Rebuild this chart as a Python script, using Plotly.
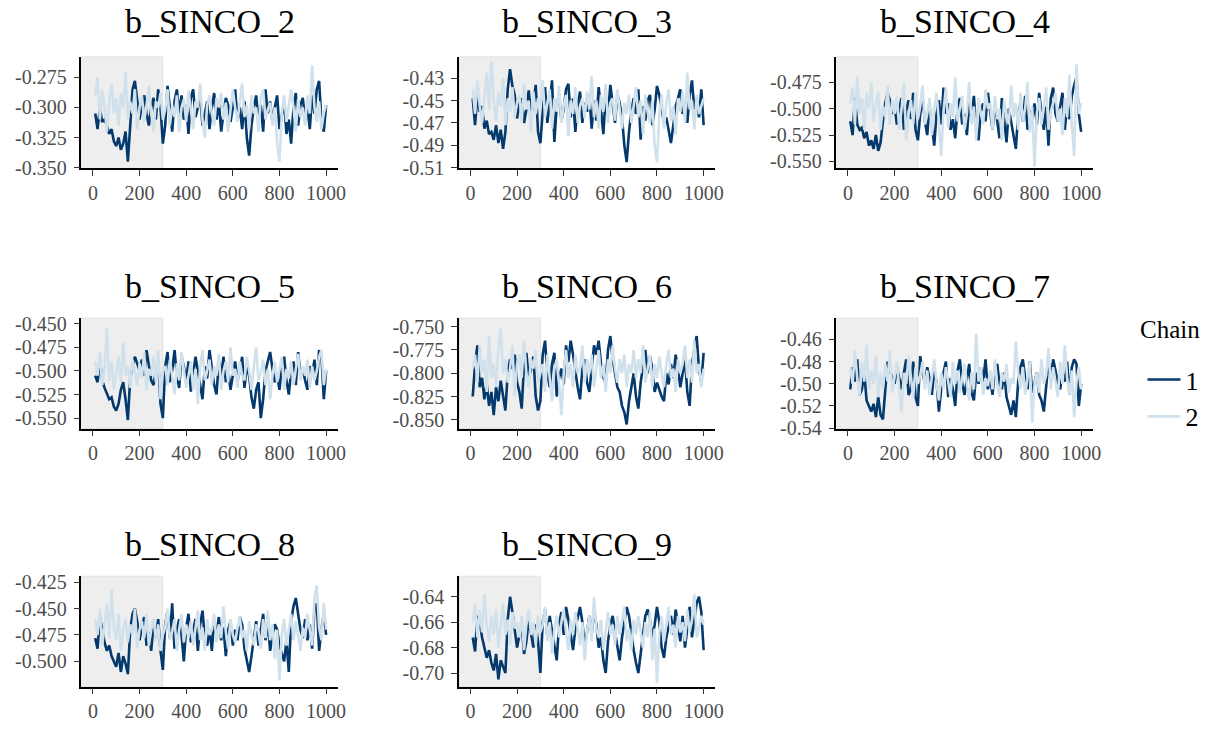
import plotly.graph_objects as go

# ---------------- data (thinned draws, every 10th iteration) ----------------
iterations = list(range(10, 1001, 10))
warmup_end = 300

params = ["b_SINCO_2", "b_SINCO_3", "b_SINCO_4", "b_SINCO_5",
          "b_SINCO_6", "b_SINCO_7", "b_SINCO_8", "b_SINCO_9"]

sinco2_chain1 = [-0.305, -0.318, -0.300, -0.312, -0.310, -0.315, -0.322, -0.318, -0.328, -0.332,
                 -0.325, -0.335, -0.330, -0.320, -0.345, -0.318, -0.285, -0.278, -0.296, -0.310,
                 -0.298, -0.290, -0.305, -0.315, -0.300, -0.292, -0.310, -0.285, -0.300, -0.330,
                 -0.315, -0.282, -0.300, -0.320, -0.295, -0.285, -0.305, -0.290, -0.310, -0.298,
                 -0.322, -0.292, -0.285, -0.308, -0.300, -0.290, -0.315, -0.305, -0.295, -0.318,
                 -0.300, -0.288, -0.310, -0.295, -0.320, -0.305, -0.292, -0.298, -0.312, -0.300,
                 -0.285, -0.310, -0.300, -0.318, -0.295, -0.325, -0.340, -0.315, -0.300, -0.290,
                 -0.310, -0.298, -0.320, -0.285, -0.305, -0.295, -0.312, -0.300, -0.290, -0.318,
                 -0.305, -0.295, -0.322, -0.310, -0.330, -0.300, -0.288, -0.315, -0.298, -0.292,
                 -0.310, -0.300, -0.318, -0.290, -0.305, -0.285, -0.278, -0.312, -0.320, -0.298]
sinco2_chain2 = [-0.290, -0.275, -0.310, -0.285, -0.300, -0.320, -0.295, -0.280, -0.305, -0.292,
                 -0.315, -0.288, -0.300, -0.270, -0.310, -0.295, -0.305, -0.285, -0.318, -0.300,
                 -0.290, -0.312, -0.298, -0.282, -0.305, -0.320, -0.295, -0.300, -0.288, -0.310,
                 -0.302, -0.285, -0.315, -0.298, -0.308, -0.290, -0.320, -0.300, -0.293, -0.312,
                 -0.286, -0.305, -0.318, -0.295, -0.300, -0.280, -0.310, -0.325, -0.298, -0.290,
                 -0.305, -0.315, -0.292, -0.300, -0.288, -0.310, -0.296, -0.320, -0.302, -0.285,
                 -0.300, -0.312, -0.295, -0.280, -0.308, -0.298, -0.318, -0.290, -0.305, -0.300,
                 -0.320, -0.292, -0.285, -0.310, -0.302, -0.296, -0.315, -0.300, -0.330, -0.345,
                 -0.305, -0.290, -0.312, -0.298, -0.285, -0.300, -0.320, -0.293, -0.308, -0.300,
                 -0.315, -0.290, -0.305, -0.265, -0.300, -0.312, -0.295, -0.318, -0.305, -0.298]

sinco3_chain1 = [-0.448, -0.472, -0.445, -0.460, -0.455, -0.475, -0.468, -0.480, -0.478, -0.485,
                 -0.472, -0.488, -0.476, -0.493, -0.478, -0.440, -0.422, -0.437, -0.445, -0.466,
                 -0.452, -0.448, -0.470, -0.458, -0.441, -0.462, -0.454, -0.436, -0.478, -0.488,
                 -0.460, -0.438, -0.470, -0.450, -0.432, -0.487, -0.455, -0.445, -0.468, -0.458,
                 -0.440, -0.435, -0.465, -0.448, -0.478, -0.455, -0.442, -0.470, -0.452, -0.460,
                 -0.445, -0.475, -0.450, -0.468, -0.438, -0.458, -0.480, -0.446, -0.462, -0.436,
                 -0.455, -0.470, -0.445, -0.452, -0.465, -0.490, -0.505, -0.478, -0.460, -0.448,
                 -0.462, -0.440, -0.485, -0.455, -0.468, -0.450, -0.445, -0.472, -0.458, -0.437,
                 -0.445, -0.458, -0.470, -0.465, -0.476, -0.488, -0.472, -0.455, -0.448, -0.440,
                 -0.462, -0.453, -0.470, -0.445, -0.432, -0.458, -0.448, -0.465, -0.440, -0.472]
sinco3_chain2 = [-0.440, -0.462, -0.432, -0.455, -0.470, -0.445, -0.425, -0.458, -0.415, -0.450,
                 -0.468, -0.442, -0.455, -0.430, -0.472, -0.448, -0.460, -0.438, -0.465, -0.452,
                 -0.445, -0.470, -0.435, -0.458, -0.450, -0.478, -0.442, -0.462, -0.448, -0.455,
                 -0.432, -0.465, -0.452, -0.440, -0.475, -0.448, -0.460, -0.437, -0.470, -0.455,
                 -0.445, -0.482, -0.450, -0.462, -0.438, -0.470, -0.455, -0.448, -0.466, -0.442,
                 -0.458, -0.428, -0.465, -0.450, -0.475, -0.445, -0.460, -0.435, -0.470, -0.452,
                 -0.448, -0.468, -0.440, -0.458, -0.475, -0.452, -0.462, -0.445, -0.470, -0.455,
                 -0.438, -0.465, -0.450, -0.480, -0.445, -0.460, -0.470, -0.450, -0.490, -0.505,
                 -0.462, -0.445, -0.475, -0.452, -0.440, -0.468, -0.455, -0.480, -0.448, -0.460,
                 -0.442, -0.470, -0.425, -0.458, -0.450, -0.476, -0.445, -0.462, -0.455, -0.448]

sinco4_chain1 = [-0.512, -0.525, -0.490, -0.515, -0.520, -0.518, -0.528, -0.522, -0.535, -0.530,
                 -0.538, -0.525, -0.540, -0.532, -0.512, -0.495, -0.485, -0.492, -0.505, -0.498,
                 -0.515, -0.500, -0.490, -0.520, -0.502, -0.492, -0.510, -0.485, -0.520, -0.530,
                 -0.505, -0.490, -0.512, -0.525, -0.498, -0.520, -0.535, -0.505, -0.492, -0.515,
                 -0.480, -0.505, -0.495, -0.520, -0.510, -0.528, -0.500, -0.490, -0.515, -0.505,
                 -0.525, -0.495, -0.510, -0.488, -0.518, -0.530, -0.502, -0.495, -0.512, -0.485,
                 -0.505, -0.520, -0.495, -0.510, -0.528, -0.490, -0.515, -0.532, -0.500, -0.512,
                 -0.525, -0.538, -0.505, -0.495, -0.512, -0.488, -0.520, -0.502, -0.510, -0.495,
                 -0.515, -0.485, -0.505, -0.520, -0.498, -0.535, -0.490, -0.480, -0.505, -0.512,
                 -0.498, -0.485, -0.520, -0.495, -0.510, -0.488, -0.478, -0.470, -0.505, -0.522]
sinco4_chain2 = [-0.495, -0.480, -0.515, -0.470, -0.505, -0.490, -0.520, -0.485, -0.500, -0.475,
                 -0.512, -0.495, -0.485, -0.520, -0.498, -0.508, -0.478, -0.515, -0.492, -0.505,
                 -0.488, -0.520, -0.500, -0.475, -0.530, -0.505, -0.492, -0.515, -0.485, -0.510,
                 -0.498, -0.478, -0.515, -0.505, -0.490, -0.525, -0.500, -0.485, -0.512, -0.545,
                 -0.502, -0.480, -0.518, -0.495, -0.508, -0.470, -0.512, -0.500, -0.488, -0.520,
                 -0.505, -0.475, -0.515, -0.498, -0.530, -0.490, -0.505, -0.515, -0.482, -0.500,
                 -0.495, -0.520, -0.488, -0.510, -0.500, -0.530, -0.492, -0.505, -0.515, -0.478,
                 -0.508, -0.495, -0.520, -0.485, -0.512, -0.500, -0.475, -0.522, -0.498, -0.555,
                 -0.505, -0.490, -0.515, -0.498, -0.480, -0.520, -0.502, -0.495, -0.485, -0.512,
                 -0.500, -0.525, -0.490, -0.508, -0.468, -0.515, -0.545, -0.458, -0.505, -0.495]

sinco5_chain1 = [-0.505, -0.512, -0.488, -0.510, -0.518, -0.525, -0.530, -0.528, -0.538, -0.542,
                 -0.535, -0.520, -0.512, -0.530, -0.552, -0.508, -0.495, -0.485, -0.492, -0.500,
                 -0.488, -0.505, -0.478, -0.495, -0.510, -0.515, -0.500, -0.490, -0.535, -0.550,
                 -0.495, -0.480, -0.512, -0.500, -0.478, -0.505, -0.518, -0.485, -0.495, -0.510,
                 -0.490, -0.522, -0.505, -0.485, -0.500, -0.515, -0.530, -0.495, -0.508, -0.478,
                 -0.500, -0.515, -0.525, -0.490, -0.505, -0.485, -0.512, -0.498, -0.520, -0.505,
                 -0.490, -0.510, -0.500, -0.485, -0.518, -0.495, -0.505, -0.528, -0.540, -0.520,
                 -0.512, -0.550, -0.530, -0.500, -0.490, -0.480, -0.498, -0.512, -0.505, -0.520,
                 -0.495, -0.485, -0.510, -0.525, -0.500, -0.490, -0.515, -0.480, -0.505, -0.498,
                 -0.510, -0.520, -0.495, -0.505, -0.488, -0.515, -0.478, -0.485, -0.530, -0.500]
sinco5_chain2 = [-0.490, -0.505, -0.480, -0.515, -0.498, -0.455, -0.510, -0.490, -0.520, -0.500,
                 -0.485, -0.512, -0.470, -0.505, -0.495, -0.518, -0.488, -0.500, -0.515, -0.492,
                 -0.508, -0.480, -0.520, -0.498, -0.505, -0.485, -0.512, -0.478, -0.530, -0.500,
                 -0.495, -0.515, -0.488, -0.505, -0.525, -0.492, -0.510, -0.480, -0.500, -0.518,
                 -0.505, -0.490, -0.520, -0.498, -0.535, -0.495, -0.478, -0.510, -0.500, -0.488,
                 -0.515, -0.495, -0.505, -0.482, -0.520, -0.500, -0.490, -0.512, -0.475, -0.505,
                 -0.498, -0.518, -0.490, -0.505, -0.510, -0.485, -0.500, -0.520, -0.495, -0.475,
                 -0.510, -0.502, -0.488, -0.515, -0.498, -0.530, -0.505, -0.490, -0.512, -0.500,
                 -0.485, -0.520, -0.498, -0.508, -0.490, -0.515, -0.500, -0.482, -0.510, -0.495,
                 -0.505, -0.488, -0.518, -0.495, -0.510, -0.500, -0.485, -0.478, -0.515, -0.498]

sinco6_chain1 = [-0.825, -0.790, -0.770, -0.815, -0.805, -0.828, -0.812, -0.835, -0.820, -0.845,
                 -0.815, -0.830, -0.808, -0.822, -0.840, -0.800, -0.785, -0.795, -0.780, -0.810,
                 -0.820, -0.838, -0.790, -0.778, -0.805, -0.795, -0.782, -0.825, -0.840, -0.830,
                 -0.780, -0.765, -0.800, -0.815, -0.790, -0.778, -0.825, -0.805, -0.795, -0.812,
                 -0.770, -0.788, -0.765, -0.780, -0.800, -0.815, -0.828, -0.795, -0.785, -0.810,
                 -0.820, -0.795, -0.770, -0.780, -0.765, -0.790, -0.805, -0.810, -0.775, -0.760,
                 -0.785, -0.800, -0.815, -0.820, -0.835, -0.842, -0.855, -0.830, -0.815, -0.800,
                 -0.825, -0.838, -0.810, -0.790, -0.775, -0.800, -0.782, -0.795, -0.820, -0.810,
                 -0.818, -0.825, -0.830, -0.800, -0.812, -0.790, -0.805, -0.780, -0.795, -0.815,
                 -0.800, -0.785, -0.820, -0.835, -0.790, -0.775, -0.760, -0.795, -0.810, -0.778]
sinco6_chain2 = [-0.795, -0.780, -0.810, -0.770, -0.800, -0.785, -0.820, -0.760, -0.805, -0.790,
                 -0.815, -0.775, -0.752, -0.800, -0.785, -0.810, -0.795, -0.770, -0.825, -0.790,
                 -0.780, -0.805, -0.765, -0.800, -0.815, -0.785, -0.795, -0.775, -0.810, -0.800,
                 -0.790, -0.820, -0.780, -0.805, -0.830, -0.795, -0.785, -0.810, -0.845, -0.800,
                 -0.775, -0.805, -0.790, -0.815, -0.780, -0.800, -0.795, -0.770, -0.810, -0.785,
                 -0.800, -0.780, -0.815, -0.795, -0.775, -0.805, -0.790, -0.820, -0.785, -0.800,
                 -0.770, -0.795, -0.810, -0.785, -0.800, -0.780, -0.815, -0.790, -0.800, -0.775,
                 -0.805, -0.785, -0.800, -0.770, -0.810, -0.795, -0.780, -0.815, -0.790, -0.805,
                 -0.782, -0.800, -0.815, -0.790, -0.775, -0.805, -0.795, -0.820, -0.785, -0.800,
                 -0.790, -0.770, -0.805, -0.785, -0.810, -0.765, -0.800, -0.790, -0.815, -0.795]

sinco7_chain1 = [-0.505, -0.485, -0.498, -0.478, -0.510, -0.505, -0.490, -0.515, -0.520, -0.525,
                 -0.518, -0.530, -0.512, -0.528, -0.532, -0.505, -0.480, -0.488, -0.495, -0.500,
                 -0.485, -0.495, -0.505, -0.490, -0.478, -0.510, -0.505, -0.480, -0.512, -0.520,
                 -0.475, -0.490, -0.500, -0.485, -0.495, -0.510, -0.488, -0.498, -0.525, -0.505,
                 -0.490, -0.480, -0.512, -0.495, -0.505, -0.520, -0.488, -0.478, -0.500, -0.510,
                 -0.495, -0.482, -0.508, -0.515, -0.490, -0.500, -0.485, -0.498, -0.478, -0.505,
                 -0.495, -0.510, -0.488, -0.482, -0.500, -0.505, -0.490, -0.512, -0.520, -0.528,
                 -0.515, -0.530, -0.498, -0.485, -0.478, -0.495, -0.505, -0.480, -0.508, -0.500,
                 -0.490, -0.510, -0.515, -0.525, -0.505, -0.480, -0.495, -0.478, -0.488, -0.500,
                 -0.505, -0.490, -0.498, -0.480, -0.510, -0.485, -0.478, -0.482, -0.520, -0.500]
sinco7_chain2 = [-0.485, -0.500, -0.470, -0.495, -0.510, -0.480, -0.498, -0.465, -0.505, -0.488,
                 -0.500, -0.475, -0.512, -0.490, -0.505, -0.482, -0.498, -0.470, -0.508, -0.495,
                 -0.480, -0.505, -0.525, -0.490, -0.500, -0.475, -0.495, -0.512, -0.485, -0.500,
                 -0.492, -0.480, -0.505, -0.488, -0.510, -0.495, -0.478, -0.500, -0.515, -0.490,
                 -0.505, -0.485, -0.498, -0.512, -0.480, -0.500, -0.488, -0.508, -0.495, -0.482,
                 -0.500, -0.515, -0.490, -0.505, -0.455, -0.498, -0.485, -0.510, -0.495, -0.502,
                 -0.488, -0.505, -0.478, -0.500, -0.512, -0.490, -0.498, -0.482, -0.508, -0.495,
                 -0.500, -0.462, -0.490, -0.505, -0.485, -0.510, -0.495, -0.480, -0.535, -0.500,
                 -0.490, -0.508, -0.478, -0.500, -0.492, -0.468, -0.505, -0.485, -0.498, -0.512,
                 -0.480, -0.500, -0.465, -0.495, -0.510, -0.488, -0.530, -0.498, -0.485, -0.505]

sinco8_chain1 = [-0.478, -0.488, -0.458, -0.470, -0.482, -0.490, -0.485, -0.495, -0.500, -0.505,
                 -0.492, -0.510, -0.495, -0.502, -0.512, -0.470, -0.455, -0.450, -0.462, -0.480,
                 -0.468, -0.458, -0.485, -0.472, -0.490, -0.465, -0.478, -0.460, -0.490, -0.508,
                 -0.465, -0.452, -0.478, -0.445, -0.488, -0.470, -0.460, -0.475, -0.500, -0.468,
                 -0.455, -0.482, -0.470, -0.460, -0.490, -0.465, -0.452, -0.478, -0.485, -0.470,
                 -0.490, -0.462, -0.475, -0.458, -0.480, -0.468, -0.495, -0.470, -0.462, -0.485,
                 -0.470, -0.480, -0.458, -0.465, -0.488, -0.500, -0.510, -0.495, -0.478, -0.462,
                 -0.485, -0.470, -0.455, -0.480, -0.462, -0.490, -0.475, -0.465, -0.470, -0.485,
                 -0.492, -0.500, -0.480, -0.510, -0.462, -0.448, -0.440, -0.455, -0.470, -0.478,
                 -0.460, -0.480, -0.465, -0.488, -0.450, -0.445, -0.490, -0.470, -0.455, -0.475]
sinco8_chain2 = [-0.460, -0.475, -0.450, -0.485, -0.465, -0.445, -0.478, -0.432, -0.468, -0.480,
                 -0.455, -0.490, -0.470, -0.460, -0.482, -0.465, -0.475, -0.450, -0.488, -0.470,
                 -0.462, -0.478, -0.455, -0.485, -0.470, -0.460, -0.480, -0.465, -0.490, -0.475,
                 -0.468, -0.450, -0.480, -0.472, -0.460, -0.490, -0.470, -0.455, -0.482, -0.465,
                 -0.478, -0.462, -0.485, -0.470, -0.452, -0.480, -0.468, -0.490, -0.460, -0.475,
                 -0.470, -0.455, -0.482, -0.465, -0.478, -0.448, -0.472, -0.488, -0.460, -0.475,
                 -0.482, -0.468, -0.458, -0.478, -0.470, -0.490, -0.462, -0.475, -0.485, -0.465,
                 -0.472, -0.488, -0.460, -0.478, -0.452, -0.480, -0.465, -0.498, -0.470, -0.518,
                 -0.475, -0.460, -0.485, -0.470, -0.455, -0.480, -0.462, -0.475, -0.490, -0.468,
                 -0.478, -0.455, -0.470, -0.485, -0.440, -0.428, -0.468, -0.480, -0.445, -0.470]

sinco9_chain1 = [-0.672, -0.683, -0.655, -0.660, -0.672, -0.680, -0.688, -0.682, -0.692, -0.698,
                 -0.685, -0.705, -0.690, -0.695, -0.700, -0.658, -0.640, -0.652, -0.665, -0.680,
                 -0.670, -0.662, -0.685, -0.675, -0.658, -0.668, -0.680, -0.662, -0.675, -0.700,
                 -0.660, -0.650, -0.672, -0.655, -0.668, -0.680, -0.690, -0.662, -0.652, -0.670,
                 -0.648, -0.658, -0.672, -0.682, -0.665, -0.655, -0.648, -0.660, -0.678, -0.668,
                 -0.655, -0.670, -0.650, -0.662, -0.680, -0.672, -0.690, -0.700, -0.675, -0.662,
                 -0.655, -0.668, -0.680, -0.690, -0.672, -0.660, -0.648, -0.655, -0.670, -0.682,
                 -0.692, -0.700, -0.685, -0.668, -0.655, -0.650, -0.658, -0.672, -0.662, -0.648,
                 -0.660, -0.680, -0.688, -0.672, -0.662, -0.655, -0.670, -0.650, -0.662, -0.675,
                 -0.655, -0.680, -0.665, -0.648, -0.672, -0.660, -0.645, -0.640, -0.652, -0.682]
sinco9_chain2 = [-0.660, -0.645, -0.672, -0.650, -0.668, -0.638, -0.662, -0.675, -0.655, -0.670,
                 -0.650, -0.680, -0.662, -0.645, -0.670, -0.658, -0.678, -0.652, -0.665, -0.660,
                 -0.672, -0.655, -0.682, -0.662, -0.650, -0.670, -0.660, -0.678, -0.655, -0.668,
                 -0.662, -0.648, -0.675, -0.660, -0.685, -0.665, -0.655, -0.672, -0.660, -0.650,
                 -0.668, -0.682, -0.658, -0.670, -0.652, -0.665, -0.678, -0.660, -0.690, -0.668,
                 -0.655, -0.675, -0.640, -0.665, -0.672, -0.658, -0.682, -0.668, -0.652, -0.670,
                 -0.662, -0.678, -0.655, -0.670, -0.660, -0.648, -0.675, -0.665, -0.682, -0.658,
                 -0.670, -0.655, -0.668, -0.680, -0.660, -0.672, -0.652, -0.690, -0.665, -0.708,
                 -0.668, -0.655, -0.675, -0.660, -0.648, -0.670, -0.662, -0.680, -0.655, -0.668,
                 -0.660, -0.675, -0.650, -0.668, -0.658, -0.638, -0.672, -0.665, -0.655, -0.662]

chain1 = [sinco2_chain1, sinco3_chain1, sinco4_chain1, sinco5_chain1,
          sinco6_chain1, sinco7_chain1, sinco8_chain1, sinco9_chain1]
chain2 = [sinco2_chain2, sinco3_chain2, sinco4_chain2, sinco5_chain2,
          sinco6_chain2, sinco7_chain2, sinco8_chain2, sinco9_chain2]

y_ticks = [[-0.275, -0.300, -0.325, -0.350],
           [-0.43, -0.45, -0.47, -0.49, -0.51],
           [-0.475, -0.500, -0.525, -0.550],
           [-0.450, -0.475, -0.500, -0.525, -0.550],
           [-0.750, -0.775, -0.800, -0.825, -0.850],
           [-0.46, -0.48, -0.50, -0.52, -0.54],
           [-0.425, -0.450, -0.475, -0.500],
           [-0.64, -0.66, -0.68, -0.70]]
y_decimals = [3, 2, 3, 3, 3, 2, 3, 2]
y_ranges = [[-0.3505, -0.258], [-0.5105, -0.411], [-0.5565, -0.451], [-0.561, -0.444],
            [-0.8594, -0.7406], [-0.5403, -0.4407], [-0.524, -0.4194], [-0.7108, -0.6238]]
x_ticks = [0, 200, 400, 600, 800, 1000]

# ---------------- layout geometry (page pixels) ----------------
W, H = 1224, 731
col_left = [82, 462, 842]
col_right = [340, 720, 1100]
row_top = [53, 320, 584]
row_bot = [167, 433, 697]
title_y = [17, 288, 552]


def px(p):
    return p / W


def py(p):
    return 1 - p / H


DARK = "#03396c"
LIGHT = "#d1e1ec"
FONT = "Liberation Serif"

fig = go.Figure()
layout = dict(
    width=W, height=H, margin=dict(l=0, r=0, t=0, b=0),
    paper_bgcolor="white", plot_bgcolor="white",
    font=dict(family=FONT, color="#4d4d4d"),
    shapes=[], annotations=[],
    legend=dict(x=px(1150), y=py(359), xanchor="left", yanchor="top",
                font=dict(size=26, color="black", family=FONT),
                tracegroupgap=0, itemwidth=33, bgcolor="rgba(0,0,0,0)"),
)
layout["annotations"].append(dict(text="Chain", xref="paper", yref="paper",
                                  x=px(1178), y=py(332), xanchor="center", yanchor="middle",
                                  showarrow=False, font=dict(size=25, color="black", family=FONT)))

for i, name in enumerate(params):
    r, c = divmod(i, 3)
    ax = "" if i == 0 else str(i + 1)
    xa, ya = "x" + ax, "y" + ax
    xdom = [px(col_left[c]), px(col_right[c])]
    ydom = [py(row_bot[r]), py(row_top[r])]
    fmt = "{:.%df}" % y_decimals[i]
    common = dict(showline=True, linecolor="black", linewidth=1.5, ticks="outside",
                  ticklen=6, tickwidth=1.2, tickcolor="#333333", showgrid=False,
                  zeroline=False, tickfont=dict(size=20, color="#4d4d4d", family=FONT))
    layout["xaxis" + ax] = dict(domain=xdom, anchor=ya, range=[-49, 1050],
                                tickvals=x_ticks, ticktext=[str(v) for v in x_ticks], **common)
    layout["yaxis" + ax] = dict(domain=ydom, anchor=xa, range=y_ranges[i],
                                tickvals=y_ticks[i], ticktext=[fmt.format(v) for v in y_ticks[i]],
                                ticklabelstandoff=3, **common)
    layout["shapes"].append(dict(type="rect", xref=xa, yref=ya + " domain",
                                 x0=-49, x1=warmup_end, y0=0, y1=1, layer="below",
                                 fillcolor="#eeeeee", line=dict(color="#e2e2e2", width=1)))
    layout["annotations"].append(dict(text=name, xref="paper", yref="paper",
                                      x=px((col_left[c] + col_right[c]) / 2),
                                      y=py(title_y[r]), xanchor="center", yanchor="middle",
                                      showarrow=False, font=dict(size=34, color="black", family=FONT)))
    fig.add_trace(go.Scatter(x=iterations, y=chain1[i], mode="lines", xaxis=xa, yaxis=ya,
                             line=dict(color=DARK, width=2.6), name="1", legendgroup="1",
                             showlegend=(i == 0)))
    fig.add_trace(go.Scatter(x=iterations, y=chain2[i], mode="lines", xaxis=xa, yaxis=ya,
                             line=dict(color=LIGHT, width=2.6), name="2", legendgroup="2",
                             showlegend=(i == 0)))

fig.update_layout(**layout)
fig.write_html("out.html", config={"displayModeBar": False},
               post_script="document.body.style.margin='0px';")
